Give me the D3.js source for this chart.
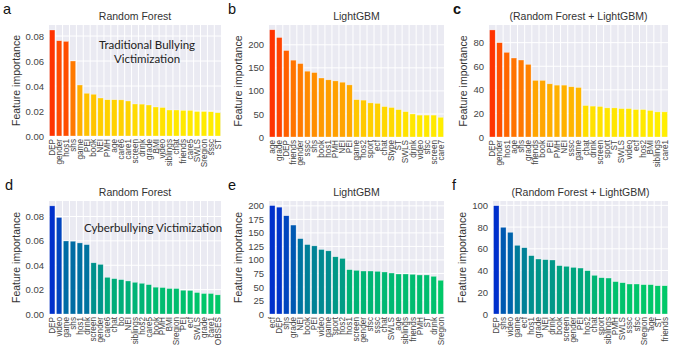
<!DOCTYPE html>
<html><head><meta charset="utf-8">
<script src="https://cdn.jsdelivr.net/npm/d3@7"></script>
<style>body{margin:0;background:#fff}svg{display:block}</style>
</head><body><svg id="chart" width="675" height="356"></svg>
<script>
// ---- data ----
const catA = ["DEP","gender","hos1","shs","game","PEI","book","NEI","PMH","age","care6","care1","screen","drink","grade","BMI","video","siblings","chat","friends","care5","SWLS","Sregion","sssc","ST"];
const valA = [0.0848,0.0762,0.0757,0.0600,0.0408,0.0342,0.0334,0.0304,0.0290,0.0290,0.0289,0.0280,0.0256,0.0255,0.0248,0.0232,0.0228,0.0208,0.0208,0.0205,0.0205,0.0196,0.0196,0.0194,0.0186];
const catB = ["age","grade","DEP","friends","gender","sssc","shs","book","hos1","PMH","NEI","PEI","game","hos2","sport","ecf","chat","Stype","ST","SWLS","drink","video","sfsc","screen","care7"];
const valB = [232.6,215.9,187.6,166.7,159.3,142.8,139.8,128,124,121.7,118.9,113,81,80,74,73,66,64,59.4,55,50,47.5,47.5,47.5,42.8];
const catC = ["DEP","gender","hos1","age","shs","grade","friends","book","PEI","PMH","NEI","sssc","game","chat","drink","screen","sport","ST","SWLS","video","ecf","hos2","BMI","siblings","care1"];
const valC = [90.8,80,71.8,67,65.3,61.6,48,48,45.1,44,44,42.6,42,26.7,26.2,25.9,24.7,24.7,24.1,24.1,23.3,23.3,22.5,21.3,21.3];
const catD = ["DEP","video","game","shs","hos1","drink","screen","gender","care6","chat","bo","NEI","siblings","hos2","care5","book","PMH","BMI","Sregion","PEI","ecf","SWLS","grade","care1","OBSES"];
const valD = [0.0887,0.0792,0.0599,0.0597,0.0583,0.0569,0.0420,0.0407,0.0301,0.0290,0.0282,0.0271,0.0260,0.0252,0.0241,0.0220,0.0217,0.0209,0.0209,0.0195,0.0193,0.0176,0.0168,0.0168,0.0157];
const catE = ["ecf","DEP","shs","grade","NEI","book","PEI","video","game","sport","hos2","hos1","screen","gender","sfsc","sssc","chat","SWLS","age","siblings","friends","PMH","ST","drink","Sregion"];
const valE = [200.6,197.6,181.7,164.5,139.4,128.4,126,119.3,116.8,105.8,102.8,82,80.7,79.5,79.5,78.9,77.7,75.8,74,74,73.4,72.2,72.2,69.7,62.4];
const catF = ["DEP","shs","video","game","ecf","hos1","grade","NEI","drink","book","screen","gender","PEI","hos2","chat","sport","siblings","PMH","SWLS","sssc","sfsc","Sregion","age","ST","friends"];
const valF = [99.7,79.8,75.2,63.2,61,53.7,50.6,50,49.7,44.5,43.9,42.9,42.3,39.9,35.6,33.4,33.1,29.8,28.8,27.6,27.6,27,27,26,26];

const ticksA = [0,0.02,0.04,0.06,0.08];
const ticksB = [0,50,100,150,200];
const ticksC = [0,20,40,60,80];
const ticksD = [0,0.02,0.04,0.06,0.08];
const ticksE = [0,25,50,75,100,125,150,175,200];
const ticksF = [0,20,40,60,80,100];

const titles = ["Random Forest","LightGBM","(Random Forest + LightGBM)","Random Forest","LightGBM","(Random Forest + LightGBM)"];
const letters = ["a","b","c","d","e","f"];
const notes = [["Traditional Bullying","Victimization"],[],[],["Cyberbullying Victimization"],[],[]];

// ---- layout / style ----
const warm = ["#ffee00","#ff3300"];
const cool = ["#00c868","#0030cc"];
const panels = [
  {cats:catA, vals:valA, ticks:ticksA, fmt:d3.format(".2f"), max:0.0888, box:[49,25,221,136], pal:warm, letter:[3,14], note:[147,49,13.5]},
  {cats:catB, vals:valB, ticks:ticksB, fmt:d3.format("d"), max:243, box:[269,25,444,137], pal:warm, letter:[228,14]},
  {cats:catC, vals:valC, ticks:ticksC, fmt:d3.format("d"), max:95, box:[489,25,668,137], pal:warm, letter:[453,14]},
  {cats:catD, vals:valD, ticks:ticksD, fmt:d3.format(".2f"), max:0.0927, box:[49,201,221,314], pal:cool, letter:[5,190], note:[153,232,0]},
  {cats:catE, vals:valE, ticks:ticksE, fmt:d3.format("d"), max:209, box:[269,201,444,314], pal:cool, letter:[228,190]},
  {cats:catF, vals:valF, ticks:ticksF, fmt:d3.format("d"), max:104, box:[493,201,668,314], pal:cool, letter:[452,190]}
];

const svg = d3.select("#chart");
const sans = "'Liberation Sans', Arial, sans-serif";

panels.forEach((p,i) => {
  const [x0,y0,x1,y1] = p.box;
  const g = svg.append("g");
  const x = d3.scaleBand().domain(p.cats).range([x0,x1]).paddingInner(0.22).paddingOuter(0.08);
  const y = d3.scaleLinear().domain([0,p.max]).range([y1,y0]);
  const vmin = d3.min(p.vals), vmax = d3.max(p.vals);
  const col = d3.scaleLinear().domain([vmin,vmax]).range(p.pal).interpolate(d3.interpolateRgb);

  g.append("rect").attr("x",x0).attr("y",y0).attr("width",x1-x0).attr("height",y1-y0).attr("fill","#eaeaf2");
  g.selectAll(".hg").data(p.ticks).enter().append("line")
    .attr("x1",x0).attr("x2",x1).attr("y1",d=>y(d)).attr("y2",d=>y(d))
    .attr("stroke","#fff").attr("stroke-width",1);
  g.selectAll(".vg").data(p.cats.slice(1)).enter().append("line")
    .attr("x1",d=>x(d)-x.step()*x.paddingInner()/2).attr("x2",d=>x(d)-x.step()*x.paddingInner()/2)
    .attr("y1",y0).attr("y2",y1).attr("stroke","#fff").attr("stroke-width",1);

  g.selectAll(".bar").data(p.cats.map((c,k)=>({c,v:p.vals[k]}))).enter().append("rect")
    .attr("x",d=>x(d.c)).attr("width",x.bandwidth())
    .attr("y",d=>y(d.v)).attr("height",d=>y1-y(d.v))
    .attr("fill",d=>col(d.v)).attr("stroke","#fff").attr("stroke-width",0.5).attr("stroke-opacity",0.6);

  const yAxis = d3.axisLeft(y).tickValues(p.ticks).tickFormat(p.fmt).tickSize(0).tickPadding(5);
  const ya = g.append("g").attr("transform",`translate(${x0},0)`).call(yAxis);
  ya.select(".domain").remove();
  ya.selectAll("text").attr("font-family",sans).attr("font-size",9.5).attr("fill","#444");
  let minX = x0;
  ya.selectAll("text").each(function(){ const b=this.getBBox(); minX=Math.min(minX,x0+b.x); });

  const xAxis = d3.axisBottom(x).tickSize(0).tickPadding(0);
  const xa = g.append("g").attr("transform",`translate(0,${y1})`).call(xAxis);
  xa.select(".domain").remove();
  xa.selectAll("text").attr("font-family",sans).attr("font-size",8.2).attr("fill","#444")
    .attr("text-anchor","end").attr("transform","rotate(-90)")
    .attr("x",-3).attr("y",0).attr("dy","0.35em");

  g.append("text").attr("transform",`translate(${minX-6},${(y0+y1)/2}) rotate(-90)`)
    .attr("text-anchor","middle").attr("font-family",sans).attr("font-size",10.5).attr("fill","#333")
    .text("Feature importance");

  g.append("text").attr("x",(x0+x1)/2).attr("y",y0-5).attr("text-anchor","middle")
    .attr("font-family",sans).attr("font-size",10.5).attr("fill","#333").text(titles[i]);

  g.append("text").attr("x",p.letter[0]).attr("y",p.letter[1]).attr("font-family",sans)
    .attr("font-size",14.5).attr("font-weight",i===2?700:400).attr("fill","#111").text(letters[i]);

  if (notes[i].length) {
    notes[i].forEach((t,k)=>{
      g.append("text").attr("x",p.note[0]).attr("y",p.note[1]+k*p.note[2]).attr("text-anchor","middle")
        .attr("font-family","Lato, 'Open Sans', sans-serif").attr("font-size",11.5).attr("fill","#222").text(t);
    });
  }
});
</script></body></html>
